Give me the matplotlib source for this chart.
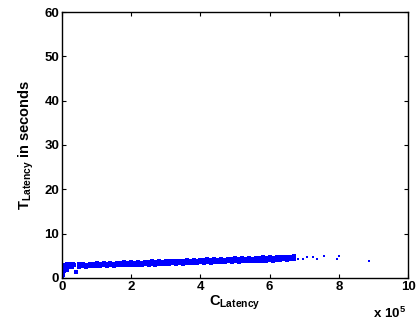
import matplotlib
matplotlib.use('Agg')
import matplotlib.pyplot as plt

plt.rcParams['font.family'] = ['Liberation Sans', 'DejaVu Sans']
plt.rcParams['font.weight'] = 'bold'
plt.rcParams['mathtext.fontset'] = 'custom'
plt.rcParams['mathtext.rm'] = 'Liberation Sans:bold'
plt.rcParams['mathtext.bf'] = 'Liberation Sans:bold'
plt.rcParams['mathtext.it'] = 'Liberation Sans:bold'

# C_Latency (x 10^5) vs T_Latency (s)
start_x = [0.00, 0.01, 0.02, 0.02, 0.03, 0.04, 0.05, 0.06, 0.07, 0.08, 0.10,
           0.12, 0.14, 0.16, 0.18, 0.20, 0.23, 0.26, 0.29, 0.32, 0.36, 0.40,
           0.00, 0.01, 0.03, 0.04, 0.06, 0.09, 0.11, 0.13, 0.15, 0.20, 0.22, 0.28]
start_y = [0.4, 0.9, 1.4, 1.9, 2.3, 1.2, 2.7, 2.0, 3.0, 2.5, 2.8,
           2.2, 3.1, 2.6, 2.9, 3.2, 2.4, 3.0, 2.7, 3.1, 2.8, 1.3,
           1.0, 2.0, 0.6, 2.9, 1.6, 1.9, 2.6, 1.8, 2.4, 2.6, 2.9, 2.5]

band_x = [0.5, 0.6, 0.7, 0.8, 0.9, 1.0, 1.1, 1.2, 1.3, 1.4, 1.5, 1.6, 1.7,
          1.8, 1.9, 2.0, 2.1, 2.2, 2.3, 2.4, 2.5, 2.6, 2.7, 2.8, 2.9, 3.0,
          3.1, 3.2, 3.3, 3.4, 3.5, 3.6, 3.7, 3.8, 3.9, 4.0, 4.1, 4.2, 4.3,
          4.4, 4.5, 4.6, 4.7, 4.8, 4.9, 5.0, 5.1, 5.2, 5.3, 5.4, 5.5, 5.6,
          5.7, 5.8, 5.9, 6.0, 6.1, 6.2, 6.3, 6.4, 6.5, 6.6, 6.7]
band_lo = [2.5, 2.6, 2.5, 2.7, 2.6, 2.7, 2.6, 2.8, 2.7, 2.8, 2.7, 2.9, 2.8,
           2.9, 2.8, 3.0, 2.9, 3.0, 2.9, 3.1, 3.0, 3.1, 3.0, 3.2, 3.1, 3.2,
           3.1, 3.3, 3.2, 3.3, 3.2, 3.4, 3.3, 3.4, 3.3, 3.5, 3.4, 3.5, 3.4,
           3.6, 3.5, 3.6, 3.5, 3.7, 3.6, 3.7, 3.6, 3.8, 3.7, 3.8, 3.7, 3.9,
           3.8, 3.9, 3.8, 4.0, 3.9, 4.0, 4.1, 4.2, 4.1, 4.3, 4.2]
band_mid = [2.8, 2.9, 2.8, 2.9, 2.9, 3.0, 2.9, 3.0, 3.0, 3.1, 3.0, 3.1, 3.1,
            3.2, 3.1, 3.2, 3.2, 3.3, 3.2, 3.3, 3.3, 3.4, 3.3, 3.4, 3.4, 3.5,
            3.4, 3.5, 3.5, 3.6, 3.5, 3.7, 3.6, 3.7, 3.6, 3.8, 3.7, 3.8, 3.7,
            3.9, 3.8, 3.9, 3.8, 4.0, 3.9, 4.0, 3.9, 4.1, 4.0, 4.1, 4.0, 4.2,
            4.1, 4.2, 4.1, 4.3, 4.2, 4.3, 4.4, 4.5, 4.4, 4.5, 4.6]
band_hi = [3.1, 3.2, 3.0, 3.2, 3.1, 3.3, 3.1, 3.3, 3.2, 3.4, 3.2, 3.4, 3.3,
           3.5, 3.3, 3.5, 3.4, 3.6, 3.4, 3.6, 3.5, 3.7, 3.6, 3.7, 3.6, 3.8,
           3.7, 3.8, 3.7, 3.9, 3.8, 4.0, 3.9, 4.1, 3.9, 4.1, 4.0, 4.2, 4.0,
           4.2, 4.1, 4.3, 4.1, 4.3, 4.2, 4.4, 4.2, 4.4, 4.3, 4.5, 4.3, 4.5,
           4.4, 4.6, 4.4, 4.6, 4.5, 4.7, 4.6, 4.8, 4.7, 4.8, 4.9]

tail_x = [6.83, 6.95, 7.07, 7.24, 7.37, 7.58, 7.94, 7.99, 8.87]
tail_y = [4.2, 4.2, 4.8, 4.6, 4.2, 5.0, 4.3, 5.0, 3.9]

fig = plt.figure(figsize=(4.19, 3.25), dpi=100)
ax = fig.add_axes([0.148, 0.145, 0.826, 0.818])

style = dict(linestyle='none', marker='s', markersize=2.4, color='#0000ff', markeredgewidth=0)
ax.plot(start_x, start_y, **style)
ax.plot(band_x, band_lo, **style)
ax.plot(band_x, band_mid, **style)
ax.plot(band_x, band_hi, **style)
# sparse points at the end are drawn a bit smaller, like single dots
ax.plot(tail_x, tail_y, linestyle='none', marker='s', markersize=1.7,
        color='#0000ff', markeredgewidth=0)

ax.set_xlim(0, 10)
ax.set_ylim(0, 60)
ax.set_xticks([0, 2, 4, 6, 8, 10])
ax.set_yticks([0, 10, 20, 30, 40, 50, 60])
ax.tick_params(direction='in', top=True, right=True, length=3, width=0.8, labelsize=9.5, pad=2)
for sp in ax.spines.values():
    sp.set_linewidth(1.0)

ax.set_xlabel(r'$\mathbf{C}_{\mathbf{Latency}}$', fontsize=10.5, labelpad=1)
ax.set_ylabel(r'$\mathbf{T}_{\mathbf{Latency}}$ in seconds', fontsize=10.5, fontweight='bold', labelpad=6)
fig.text(0.89, 0.02, r'$\mathbf{x\ 10^{5}}$', fontsize=9.5)

fig.savefig('out.png', dpi=100)
